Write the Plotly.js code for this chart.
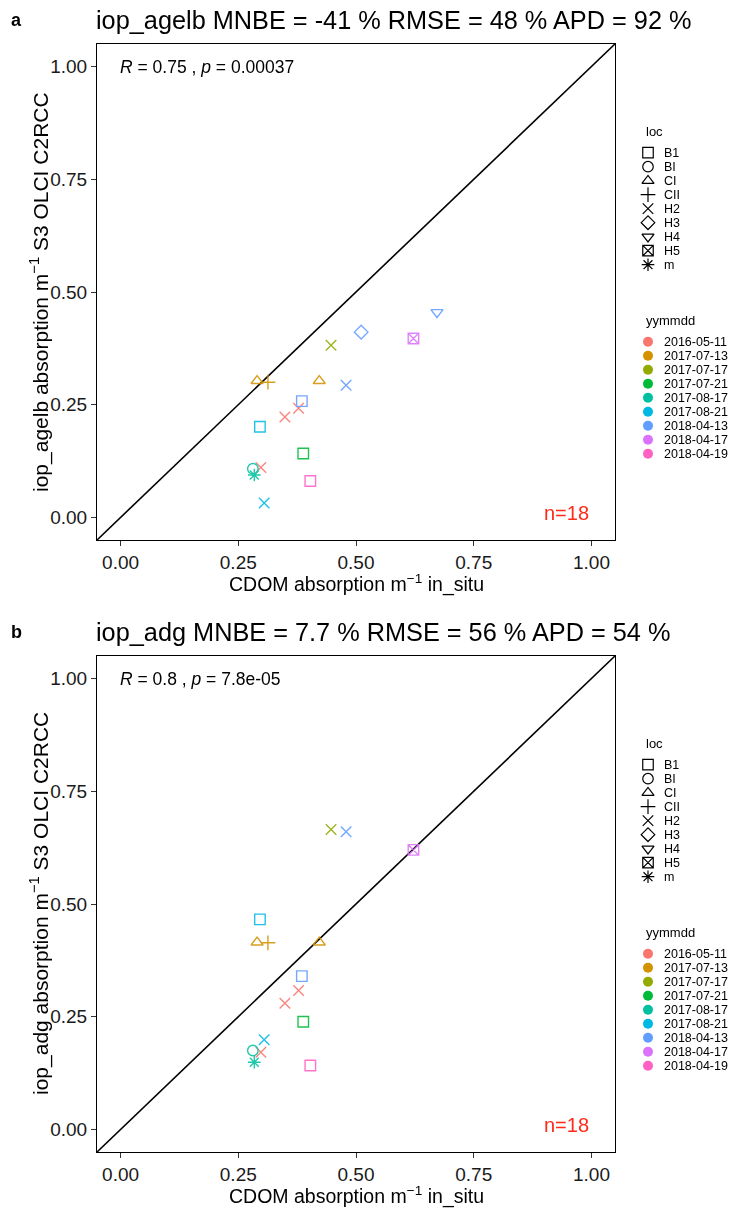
<!DOCTYPE html>
<html><head><meta charset="utf-8">
<script src="https://cdn.plot.ly/plotly-3.0.1.min.js"></script>
<style>html,body{margin:0;padding:0;background:#fff}</style>
</head><body><div id="chart" style="width:732px;height:1212px"></div>
<script>
// ---------- data ----------
const locLevels = ['B1','BI','CI','CII','H2','H3','H4','H5','m'];
const dateLevels = ['2016-05-11','2017-07-13','2017-07-17','2017-07-21','2017-08-17','2017-08-21','2018-04-13','2018-04-17','2018-04-19'];
const pointLoc  = ['H2','H2','H2','CI','CII','CI','H2','B1','BI','m','B1','H2','B1','H2','H3','H4','H5','B1'];
const pointDate = ['2016-05-11','2016-05-11','2016-05-11','2017-07-13','2017-07-13','2017-07-13','2017-07-17','2017-07-21','2017-08-17','2017-08-17','2017-08-21','2017-08-21','2018-04-13','2018-04-13','2018-04-13','2018-04-13','2018-04-17','2018-04-19'];
const insitu = [0.378,0.349,0.298,0.290,0.313,0.422,0.447,0.388,0.281,0.284,0.296,0.305,0.385,0.479,0.511,0.672,0.622,0.403];
const agelb  = [0.242,0.223,0.111,0.303,0.300,0.303,0.382,0.142,0.108,0.094,0.201,0.032,0.258,0.293,0.411,0.455,0.397,0.081];
const adg    = [0.308,0.280,0.171,0.415,0.414,0.415,0.665,0.239,0.175,0.149,0.466,0.199,0.340,0.660,null,null,0.620,0.142];
const tickVals = [0, 0.25, 0.5, 0.75, 1];
const tickLabels = ['0.00','0.25','0.50','0.75','1.00'];
const panelLetters = ['a','b'];
const panelTitles = ['iop_agelb MNBE = -41 % RMSE = 48 % APD = 92 %', 'iop_adg MNBE = 7.7 % RMSE = 56 % APD = 54 %'];
const corrTexts = ['<i>R</i> = 0.75 , <i>p</i> = 0.00037', '<i>R</i> = 0.8 , <i>p</i> = 7.8e-05'];
const nTexts = ['n=18','n=18'];
const yTitles = ['iop_agelb absorption m<sup>−1</sup> S3 OLCI C2RCC', 'iop_adg absorption m<sup>−1</sup> S3 OLCI C2RCC'];
const xTitle = 'CDOM absorption m<sup>−1</sup> in_situ';

// ---------- styles ----------
const locSymbols = {B1:'square-open',BI:'circle-open',CI:'triangle-up-open',CII:'cross-thin-open',H2:'x-thin-open',H3:'diamond-open',H4:'triangle-down-open',H5:'square-x-open',m:'asterisk-open'};
const dateColors = {'2016-05-11':'#F8766D','2017-07-13':'#D39200','2017-07-17':'#93AA00','2017-07-21':'#00BA38','2017-08-17':'#00C19F','2017-08-21':'#00B9E3','2018-04-13':'#619CFF','2018-04-17':'#DB72FB','2018-04-19':'#FF61C3'};
const FONT = 'Liberation Sans, Arial, Helvetica, sans-serif';
const W = 732, H = 1212;
const axRange = [-0.05, 1.05];
const panelTop = [44, 656];      // px
const panelH = 496;
const plotL = 97, plotR = 615;

const data = [];
const annotations = [];
const layout = {
  width: W, height: H, margin:{l:0,r:0,t:0,b:0},
  paper_bgcolor:'#fff', plot_bgcolor:'#fff', showlegend:false,
  font:{family:FONT, color:'#000'}, annotations
};

const ySeries = [agelb, adg];
for (let p = 0; p < 2; p++) {
  const xa = p === 0 ? 'x' : 'x2', ya = p === 0 ? 'y' : 'y2';
  const top = panelTop[p], bot = top + panelH;
  const axCommon = {
    range: axRange, autorange:false, tickvals: tickVals, ticktext: tickLabels,
    ticks:'outside', ticklen:5, tickwidth:1, tickcolor:'#333',
    showline:true, mirror:true, linecolor:'#000', linewidth:1,
    showgrid:false, zeroline:false, fixedrange:true,
    tickfont:{size:19, color:'#1a1a1a', family:FONT}
  };
  layout[p === 0 ? 'xaxis' : 'xaxis2'] = Object.assign({}, axCommon, {domain:[plotL/W, plotR/W], anchor: ya});
  layout[p === 0 ? 'yaxis' : 'yaxis2'] = Object.assign({}, axCommon, {domain:[1 - bot/H, 1 - top/H], anchor: xa});

  // 1:1 line
  data.push({x: axRange, y: axRange, xaxis: xa, yaxis: ya, mode:'lines', line:{color:'#000', width:1.6}, hoverinfo:'skip', cliponaxis:true});
  // points
  data.push({
    x: insitu, y: ySeries[p], xaxis: xa, yaxis: ya, mode:'markers', opacity:0.88,
    marker:{symbol: pointLoc.map(l => locSymbols[l]), color: pointDate.map(d => dateColors[d]), size:10.5, line:{width:1.4}}
  });

  // legend axes
  const lx = p === 0 ? 'x3' : 'x4', ly = p === 0 ? 'y3' : 'y4';
  const lTop = 120 + p * 612, lBot = 480 + p * 612;
  const vTop = -(152.7 - lTop + p*612) / 14;
  layout[p === 0 ? 'xaxis3' : 'xaxis4'] = {domain:[640/W, 1], range:[0, 92], visible:false, fixedrange:true, anchor: ly};
  layout[p === 0 ? 'yaxis3' : 'yaxis4'] = {domain:[1 - lBot/H, 1 - lTop/H], range:[vTop + (lBot - lTop)/14, vTop], visible:false, fixedrange:true, anchor: lx};
  data.push({
    x: locLevels.map(() => 8), y: locLevels.map((_, i) => i), xaxis: lx, yaxis: ly, mode:'markers',
    marker:{symbol: locLevels.map(l => locSymbols[l]), color:'#000', size:10.5, line:{width:1.2}}, hoverinfo:'skip'
  });
  data.push({
    x: dateLevels.map(() => 8), y: dateLevels.map((_, i) => 13.5 + i), xaxis: lx, yaxis: ly, mode:'markers',
    marker:{symbol:'circle', color: dateLevels.map(d => dateColors[d]), size:10}, hoverinfo:'skip'
  });
  annotations.push({xref:lx, yref:ly, x:4, y:-1.5, text:'loc', showarrow:false, xanchor:'left', yanchor:'middle', font:{size:13, color:'#000'}});
  annotations.push({xref:lx, yref:ly, x:4, y:12, text:'yymmdd', showarrow:false, xanchor:'left', yanchor:'middle', font:{size:13, color:'#000'}});
  locLevels.forEach((l, i) => annotations.push({xref:lx, yref:ly, x:21.5, y:i, text:l, showarrow:false, xanchor:'left', yanchor:'middle', font:{size:12.5, color:'#000'}}));
  dateLevels.forEach((d, i) => annotations.push({xref:lx, yref:ly, x:21.5, y:13.5 + i, text:d, showarrow:false, xanchor:'left', yanchor:'middle', font:{size:12.5, color:'#000'}}));

  // titles and text
  annotations.push({xref:'paper', yref:'paper', x:16/W, y:1 - (top - 24)/H, text:'<b>' + panelLetters[p] + '</b>', showarrow:false, xanchor:'center', yanchor:'middle', font:{size:18, color:'#000'}});
  annotations.push({xref:'paper', yref:'paper', x:plotL/W, y:1 - (top - 24)/H, xshift:-3, text: panelTitles[p], showarrow:false, xanchor:'left', yanchor:'middle', font:{size:25.3, color:'#000'}});
  annotations.push({xref:xa, yref:ya, x:0, y:1, xshift:-3, text: corrTexts[p], showarrow:false, xanchor:'left', yanchor:'middle', font:{size:17.5, color:'#000'}});
  annotations.push({xref:xa, yref:ya, x:0.946, y:0.01, text: nTexts[p], showarrow:false, xanchor:'center', yanchor:'middle', font:{size:20, color:'#FF2A1A'}});
  annotations.push({xref:'paper', yref:'paper', x:(plotL + plotR)/2/W, y:1 - (bot + 43)/H, text: xTitle, showarrow:false, xanchor:'center', yanchor:'middle', font:{size:19.5, color:'#000'}});
  annotations.push({xref:'paper', yref:'paper', x:39/W, y:1 - (top + panelH/2)/H, text: yTitles[p], textangle:-90, showarrow:false, xanchor:'center', yanchor:'middle', font:{size:21, color:'#000'}});
}

Plotly.newPlot('chart', data, layout, {staticPlot:true, displayModeBar:false});
</script></body></html>
